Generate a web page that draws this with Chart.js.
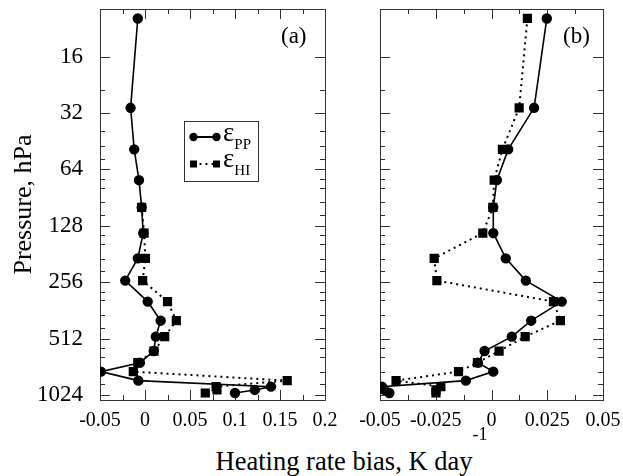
<!DOCTYPE html>
<html>
<head>
<meta charset="utf-8">
<title>Heating rate bias</title>
<script src="https://cdn.jsdelivr.net/npm/chart.js"></script>
<style>
  body { margin: 0; background: #fff; }
  #figure { position: relative; width: 623px; height: 476px; font-family: "Liberation Serif", "Times New Roman", serif; color: #000; overflow: hidden; }
  #chartA { position: absolute; left: 0; top: 0; }
  #chartB { position: absolute; left: 358px; top: 0; }
  .tag { position: absolute; top: 24px; font-size: 23px; line-height: 1; }
  #legend { position: absolute; left: 184px; top: 121px; width: 75px; height: 61px; border: 1px solid #333; box-sizing: border-box; background: #fff; }
  #legend svg { position: absolute; left: 3px; }
  #legend .sym { position: absolute; left: 38px; font-size: 27px; line-height: 1; white-space: nowrap; }
  #legend sub { font-size: 15px; line-height: 0; vertical-align: -8px; }
  #xtitle { position: absolute; left: 100px; width: 503px; top: 448px; text-align: center; font-size: 26.5px; line-height: 1; white-space: nowrap; }
  #xtitle sup { font-size: 18px; line-height: 0; vertical-align: baseline; position: relative; top: -30px; }
</style>
</head>
<body>
<div id="figure">
  <canvas id="chartA" width="340" height="430"></canvas>
  <canvas id="chartB" width="265" height="430"></canvas>
  <div class="tag" style="left:281px">(a)</div>
  <div class="tag" style="left:563px">(b)</div>
  <div id="legend">
    <svg width="34" height="16" style="top:7px">
      <line x1="5.5" y1="8" x2="28.5" y2="8" stroke="#000" stroke-width="2"/>
      <circle cx="5.5" cy="8" r="4.2"/><circle cx="28.5" cy="8" r="4.2"/>
    </svg>
    <span class="sym" style="top:-3px">ε<sub>PP</sub></span>
    <svg width="34" height="16" style="top:34px">
      <line x1="5.5" y1="8" x2="28.5" y2="8" stroke="#000" stroke-width="2" stroke-dasharray="2 4"/>
      <rect x="2" y="4.5" width="7" height="7"/><rect x="25" y="4.5" width="7" height="7"/>
    </svg>
    <span class="sym" style="top:23px">ε<sub>HI</sub></span>
  </div>
  <div id="xtitle">Heating rate bias, K day<sup>-1</sup></div>
</div>

<script>
// Pressure levels (hPa) shared by both panels
const LEVELS = [10, 30, 50, 73, 102, 140, 191, 251, 325, 411, 500, 597, 689, 769, 859, 925, 963, 1000];

// Panel (a)
const PP_A = [-0.008, -0.016, -0.012, -0.0067, -0.0037, -0.002, -0.008, -0.022, 0.003, 0.0174, 0.012, 0.0097, -0.0056, -0.049, -0.0074, 0.140, 0.122, 0.100];
const HI_A = [null, null, null, null, -0.0037, -0.001, 0.0004, -0.0026, 0.025, 0.0348, 0.0219, 0.010, -0.008, -0.013, 0.158, 0.079, 0.080, 0.067];

// Panel (b)
const PP_B = [0.0248, 0.0191, 0.0075, 0.0024, 0.0008, 0.0008, 0.0064, 0.0154, 0.0315, 0.0178, 0.0091, -0.0031, -0.0061, 0.0008, -0.0115, -0.0491, -0.048, -0.0458];
const HI_B = [0.0161, 0.0124, 0.0049, 0.0012, 0.0006, -0.0039, -0.0257, -0.0245, 0.0278, 0.0309, 0.0151, 0.0034, -0.0063, -0.0148, -0.0428, -0.0227, -0.0249, -0.0249];

// Tick values
const P_MAJOR = [16, 32, 64, 128, 256, 512, 1024];
const P_MINOR = [24, 40, 48, 56, 72, 80, 96, 112, 144, 160, 192, 224, 288, 320, 384, 448, 576, 640, 768, 896];
const X_MAJOR_A = [-0.05, 0, 0.05, 0.1, 0.15, 0.2];
const X_MINOR_A = [-0.025, 0.025, 0.075, 0.125, 0.175];
const X_MAJOR_B = [-0.05, -0.025, 0, 0.025, 0.05];
const X_MINOR_B = [-0.0375, -0.0125, 0.0125, 0.0375];

const SERIF = "'Liberation Serif', 'Times New Roman', serif";

/**
 * Turn a value array into {x, y} points, dropping missing values
 */
function toPoints(values) {
    const pts = [];
    values.forEach((v, i) => {
        if (v !== null) pts.push({ x: v, y: LEVELS[i] });
    });
    return pts;
}

/**
 * Replace a scale's ticks with major + minor lists
 */
function setTicks(major, minor) {
    return function(scale) {
        scale.ticks = major.concat(minor)
            .sort((a, b) => a - b)
            .map(v => ({ value: v, minor: !major.includes(v) }));
    };
}

// Box around the plot with inward ticks on all four sides
const frameTicks = {
    id: 'frameTicks',
    beforeDatasetsDraw(chart) {
        const { ctx, chartArea: a, scales } = chart;
        ctx.save();
        ctx.strokeStyle = '#333';
        ctx.lineWidth = 1;
        ctx.strokeRect(Math.round(a.left) + 0.5, Math.round(a.top) + 0.5,
            Math.round(a.right - a.left), Math.round(a.bottom - a.top));
        ctx.beginPath();
        scales.x.ticks.forEach(t => {
            const len = t.minor ? 5 : 10;
            const px = Math.round(scales.x.getPixelForValue(t.value)) + 0.5;
            ctx.moveTo(px, a.bottom); ctx.lineTo(px, a.bottom - len);
            ctx.moveTo(px, a.top); ctx.lineTo(px, a.top + len);
        });
        scales.y.ticks.forEach(t => {
            const len = t.minor ? 5 : 10;
            const py = Math.round(scales.y.getPixelForValue(t.value)) + 0.5;
            ctx.moveTo(a.left, py); ctx.lineTo(a.left + len, py);
            ctx.moveTo(a.right, py); ctx.lineTo(a.right - len, py);
        });
        ctx.stroke();
        ctx.restore();
    }
};

/**
 * Build one panel
 */
function createPanel(canvasId, pp, hi, xMin, xMax, xMajor, xMinor, opts) {
    const ctx = document.getElementById(canvasId).getContext('2d');
    return new Chart(ctx, {
        type: 'line',
        data: {
            datasets: [{
                label: 'εPP',
                data: toPoints(pp),
                borderColor: '#000',
                backgroundColor: '#000',
                borderWidth: 1.6,
                pointStyle: 'circle',
                pointRadius: 4.4,
                tension: 0
            }, {
                label: 'εHI',
                data: toPoints(hi),
                borderColor: '#000',
                backgroundColor: '#000',
                borderWidth: 2,
                borderDash: [2, 4],
                pointStyle: 'rect',
                pointRadius: 5.1,
                tension: 0
            }]
        },
        options: {
            responsive: false,
            animation: false,
            devicePixelRatio: 1,
            layout: { padding: { top: 9, right: opts.padRight, left: 0, bottom: 0 } },
            plugins: { legend: { display: false }, tooltip: { enabled: false } },
            scales: {
                x: {
                    type: 'linear',
                    min: xMin,
                    max: xMax,
                    bounds: 'data',
                    grid: { display: false },
                    border: { display: false },
                    afterBuildTicks: setTicks(xMajor, xMinor),
                    afterFit: scale => { scale.height = 30; },
                    ticks: {
                        autoSkip: false,
                        maxRotation: 0,
                        padding: 1,
                        color: '#000',
                        font: { family: SERIF, size: 20 },
                        callback: v => xMajor.includes(v) ? String(v) : ''
                    }
                },
                y: {
                    type: 'logarithmic',
                    reverse: true,
                    min: 8.9,
                    max: 1090,
                    bounds: 'data',
                    grid: { display: false },
                    border: { display: false },
                    afterBuildTicks: setTicks(P_MAJOR, P_MINOR),
                    afterFit: scale => {
                        scale.width = opts.yWidth;
                        scale.paddingTop = 0;
                        scale.paddingBottom = 0;
                    },
                    title: {
                        display: opts.showLabels,
                        text: 'Pressure, hPa',
                        color: '#000',
                        padding: { top: 9, bottom: 0 },
                        font: { family: SERIF, size: 26 }
                    },
                    ticks: {
                        display: opts.showLabels,
                        autoSkip: false,
                        padding: 9,
                        color: '#000',
                        font: { family: SERIF, size: 23 },
                        callback: v => P_MAJOR.includes(v) ? String(v) : ''
                    }
                }
            }
        },
        plugins: [frameTicks]
    });
}

createPanel('chartA', PP_A, HI_A, -0.05, 0.2, X_MAJOR_A, X_MINOR_A,
    { padRight: 15, yWidth: 100, showLabels: true });
createPanel('chartB', PP_B, HI_B, -0.05, 0.05, X_MAJOR_B, X_MINOR_B,
    { padRight: 20, yWidth: 22, showLabels: false });
</script>
</body>
</html>
